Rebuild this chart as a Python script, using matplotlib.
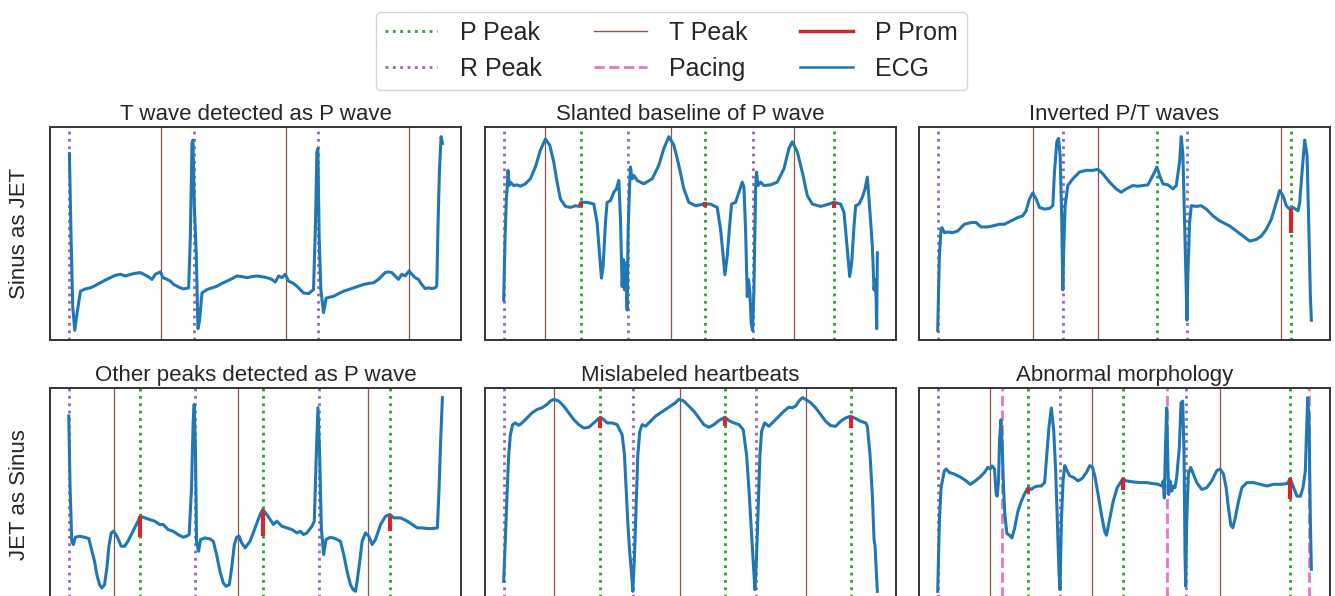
import matplotlib.pyplot as plt
from matplotlib.lines import Line2D

plt.rcParams['font.family'] = ['Liberation Sans', 'DejaVu Sans']
plt.rcParams['text.color'] = '#262626'
plt.rcParams['axes.labelcolor'] = '#262626'

# colours (seaborn / tab10 palette)
c_p = '#2ca02c'
c_r = '#9467bd'
c_t = '#8c564b'
c_pace = '#e377c2'
c_prom = '#d62728'
c_ecg = '#1f77b4'

titles = ['T wave detected as P wave', 'Slanted baseline of P wave', 'Inverted P/T waves',
          'Other peaks detected as P wave', 'Mislabeled heartbeats', 'Abnormal morphology']
row_labels = ['Sinus as JET', 'JET as Sinus']

# ---- panel 1: T wave detected as P wave ----
t1 = [87, 92, 97, 103, 110, 120, 135, 150, 165, 180, 195, 210, 225, 240, 255, 265, 280, 300, 320, 335,
      345, 360, 368, 380, 390, 400, 410, 420, 430, 445, 450, 455, 458, 462, 468, 473, 478, 485, 500, 515,
      530, 545, 560, 575, 590, 605, 620, 635, 650, 665, 680, 695, 705, 715, 725, 735, 745, 760, 770, 790,
      805, 820, 826, 830, 833, 837, 842, 850, 858, 870, 880, 895, 910, 925, 940, 955, 970, 985, 1000, 1015,
      1025, 1035, 1045, 1055, 1065, 1075, 1085, 1095, 1107, 1115, 1125, 1135, 1145, 1155, 1165, 1175, 1185,
      1190, 1194, 1198, 1203, 1207]
ecg1 = [550, 300, 100, 30, 80, 145, 152, 155, 162, 170, 178, 185, 192, 195, 190, 193, 197, 200, 190, 180,
        195, 202, 185, 180, 175, 165, 160, 155, 152, 155, 300, 580, 590, 400, 250, 35, 60, 140, 150, 155,
        160, 168, 175, 182, 190, 188, 185, 188, 190, 188, 185, 180, 172, 190, 185, 195, 175, 168, 160, 140,
        138, 150, 350, 555, 565, 300, 150, 82, 125, 128, 130, 138, 145, 150, 155, 160, 165, 168, 170, 180,
        190, 200, 202, 200, 190, 180, 195, 190, 205, 195, 185, 180, 165, 153, 155, 153, 155,
        160, 350, 500, 600, 580]
r1 = [85, 460, 832]
tp1 = [362, 737, 1107]
p1 = []
pace1 = []
prom1 = []

# ---- panel 2: Slanted baseline of P wave ----
t2 = [100, 104, 108, 111, 113, 116, 120, 130, 140, 150, 165, 180, 195, 210, 225, 238, 250, 260, 270, 285,
      300, 315, 325, 332, 350, 370, 380, 387, 393, 398, 405, 410, 420, 430, 438, 445, 450, 455, 459, 462,
      466, 470, 473, 477, 480, 485, 490, 500, 520, 545, 565, 580, 595, 610, 625, 640, 655, 675, 700, 720,
      740, 750, 758, 763, 770, 778, 783, 795, 805, 815, 820, 825, 830, 834, 838, 842, 846, 850, 855, 858,
      862, 870, 880, 900, 920, 940, 955, 965, 980, 995, 1010, 1025, 1050, 1075, 1090, 1110, 1120, 1130,
      1137, 1143, 1150, 1155, 1165, 1175, 1183, 1190, 1195, 1205, 1210, 1213, 1216, 1218, 1220]
ecg2 = [120, 300, 420, 460, 505, 460, 470, 460, 462, 458, 465, 480, 515, 565, 598, 580, 530, 470, 420, 398,
        395, 400, 398, 410, 410, 405, 350, 260, 185, 220, 350, 410, 415, 440, 450, 475, 360, 160, 240, 150,
        230, 90, 330, 450, 515, 480, 490, 475, 465, 480, 520, 570, 605, 580, 520, 450, 410, 400, 405, 405,
        395, 330, 250, 195, 250, 350, 405, 410, 440, 470, 455, 330, 130, 180, 140, 50, 30, 150, 450, 500,
        460, 470, 460, 462, 470, 510, 570, 590, 560, 500, 430, 405, 398, 405, 410, 405, 380, 270,
        190, 230, 340, 400, 405, 425, 450, 485, 420, 280, 150, 180, 130, 35, 260]
r2 = [100, 473, 848]
tp2 = [225, 602, 970]
p2 = [332, 702, 1090]
pace2 = []
prom2 = [(332, 412, 395), (702, 410, 395), (1090, 410, 392)]

# ---- panel 3: Inverted P/T waves ----
t3 = [115, 120, 125, 128, 135, 145, 160, 175, 195, 215, 230, 245, 265, 280, 300, 315, 335, 355, 370, 380,
      390, 400, 410, 420, 435, 450, 460, 465, 472, 477, 482, 487, 490, 492, 497, 505, 520, 540, 560, 580,
      595, 610, 630, 650, 665, 680, 700, 715, 730, 745, 760, 772, 780, 790, 805, 820, 830, 840, 845, 850,
      855, 860, 862, 865, 870, 875, 890, 905, 920, 940, 960, 990, 1010, 1030, 1050, 1070, 1085, 1100, 1115,
      1130, 1140, 1150, 1160, 1170, 1180, 1195, 1200, 1207, 1215, 1222, 1227, 1232, 1235]
ecg3 = [30, 250, 330, 335, 320, 322, 320, 325, 345, 350, 350, 337, 337, 340, 345, 345, 355, 365, 370, 385,
        420, 438, 420, 395, 390, 392, 400, 500, 590, 600, 550, 350, 150, 250, 400, 460, 480, 500, 505, 505,
        508, 495, 470, 450, 440, 450, 460, 458, 460, 462, 490, 515, 490, 465, 462, 450, 460, 530, 605, 550,
        350, 150, 60, 200, 350, 400, 398, 400, 390, 370, 355, 340, 325, 310, 295, 300, 310, 330, 360,
        410, 445, 430, 400, 390, 395, 385, 410, 500, 595, 550, 350, 130, 60]
r3 = [115, 490, 862]
tp3 = [400, 595, 1145]
p3 = [773, 1175]
pace3 = []
prom3 = [(1175, 390, 320)]

# ---- panel 4: Other peaks detected as P wave ----
t4 = [88, 92, 97, 102, 108, 120, 135, 148, 155, 165, 172, 180, 187, 195, 202, 208, 215, 222, 232, 245,
      255, 265, 280, 295, 302, 315, 330, 345, 360, 370, 385, 400, 415, 430, 440, 448, 455, 460, 463, 467,
      470, 476, 482, 495, 510, 520, 530, 540, 550, 558, 568, 575, 583, 590, 597, 605, 615, 630, 645, 660,
      668, 680, 690, 700, 710, 725, 740, 755, 770, 780, 790, 800, 815, 822, 828, 833, 838, 843, 850, 857,
      870, 885, 900, 910, 920, 930, 938, 945, 950, 958, 965, 975, 985, 995, 1005, 1020, 1035, 1048, 1060,
      1080, 1100, 1115, 1130, 1145, 1160, 1175, 1190, 1195, 1200, 1205]
ecg4 = [555, 340, 180, 170, 192, 195, 192, 188, 160, 120, 80, 50, 40, 50, 100, 165, 205, 210, 195, 165,
        165, 180, 210, 240, 255, 250, 245, 240, 230, 230, 215, 210, 200, 192, 195, 200, 340, 540, 590, 440,
        180, 150, 185, 190, 187, 180, 140, 90, 55, 45, 50, 100, 170, 192, 195, 175, 160, 180, 220, 260,
        275, 260, 245, 230, 240, 225, 220, 215, 205, 210, 200, 205, 225, 240, 440, 580, 440, 220, 140, 185,
        192, 188, 180, 140, 90, 50, 35, 30, 60, 120, 180, 205, 195, 170, 185, 230, 255, 260, 250,
        250, 240, 230, 220, 220, 218, 218, 220, 340, 490, 610]
r4 = [88, 465, 835]
tp4 = [222, 595, 982]
p4 = [302, 668, 1048]
pace4 = []
prom4 = [(302, 255, 192), (668, 275, 195), (1048, 260, 210)]

# ---- panel 5: Mislabeled heartbeats ----
t5 = [100, 105, 110, 115, 120, 127, 135, 145, 155, 170, 185, 200, 215, 230, 240, 250, 265, 280, 295, 310,
      325, 340, 355, 370, 385, 390, 400, 410, 425, 440, 455, 462, 467, 472, 477, 483, 487, 492, 497, 502,
      508, 515, 525, 540, 555, 570, 585, 600, 615, 625, 640, 655, 670, 685, 700, 715, 730, 745, 763, 775,
      790, 805, 818, 828, 835, 842, 848, 853, 858, 863, 868, 873, 882, 895, 910, 925, 940, 955, 965, 975,
      985, 995, 1005, 1020, 1035, 1050, 1065, 1080, 1095, 1110, 1125, 1140, 1155, 1170, 1185, 1190, 1198,
      1205, 1210, 1213, 1217, 1220]
ecg5 = [65, 190, 320, 440, 500, 530, 535, 528, 535, 550, 565, 575, 580, 590, 600, 605, 600, 585, 565, 545,
        530, 520, 522, 535, 548, 552, 545, 535, 535, 530, 500, 440, 340, 240, 160, 90, 35, 140, 290, 440,
        510, 530, 525, 540, 555, 565, 575, 585, 595, 605, 600, 585, 570, 550, 530, 522, 530, 542, 552, 542,
        535, 530, 515, 440, 340, 220, 120, 40, 140, 290, 440, 510, 535, 525, 540, 555, 570, 582, 580, 585,
        600, 610, 605, 595, 580, 560, 540, 527, 525, 540, 550, 555, 548, 540, 535, 525, 440,
        320, 190, 170, 90, 35]
r5 = [100, 488, 855]
tp5 = [250, 628, 1005]
p5 = [390, 763, 1140]
pace5 = []
prom5 = [(390, 552, 520), (763, 552, 525), (1140, 555, 520)]

# ---- panel 6: Abnormal morphology ----
t6 = [115, 120, 125, 135, 140, 150, 165, 185, 200, 212, 225, 240, 255, 265, 272, 278, 285, 290, 293, 297,
      300, 304, 308, 312, 316, 322, 330, 337, 345, 355, 365, 375, 385, 395, 405, 415, 425, 435, 440, 448,
      455, 462, 468, 473, 478, 481, 485, 490, 495, 502, 510, 522, 535, 548, 560, 570, 578, 585, 595, 605,
      615, 620, 628, 640, 652, 668, 680, 700, 720, 740, 760, 775, 785, 790, 793, 796, 800, 803, 806, 810,
      815, 820, 825, 830, 838, 843, 848, 852, 855, 857, 860, 865, 872, 880, 890, 905, 920, 935, 950, 960,
      970, 978, 985, 992, 998, 1005, 1015, 1025, 1040, 1060, 1080, 1100, 1120, 1140, 1160, 1170, 1180,
      1190, 1200, 1208, 1215, 1218, 1222, 1226, 1230, 1233]
ecg6 = [35, 240, 340, 390, 395, 385, 380, 370, 360, 350, 358, 370, 385, 400, 395, 404, 395, 320, 315, 360,
        480, 540, 460, 340, 260, 205, 200, 192, 220, 270, 300, 322, 340, 335, 342, 345, 345, 355, 420, 520,
        575, 510, 390, 240, 90, 40, 240, 360, 405, 390, 375, 370, 360, 368, 385, 405, 400, 375, 320, 260,
        210, 200, 240, 300, 340, 365, 360, 357, 355, 355, 352, 350, 345, 360, 310, 440, 575, 440, 320, 360,
        330, 345, 340, 370, 460, 590, 595, 440, 140, 50, 240, 380, 400, 380, 355, 335, 340, 360, 390, 395,
        380, 340, 280, 230, 222, 250, 300, 340, 355, 355, 350, 345, 350, 350, 352, 365, 340,
        315, 315, 340, 390, 490, 605, 540, 240, 100]
r6 = [115, 482, 857]
tp6 = [272, 578, 960]
p6 = [385, 668, 1170]
pace6 = [307, 800, 1226]
prom6 = [(385, 340, 325), (668, 368, 332), (1170, 370, 308)]

panels = [
    (t1, ecg1, r1, tp1, p1, pace1, prom1),
    (t2, ecg2, r2, tp2, p2, pace2, prom2),
    (t3, ecg3, r3, tp3, p3, pace3, prom3),
    (t4, ecg4, r4, tp4, p4, pace4, prom4),
    (t5, ecg5, r5, tp5, p5, pace5, prom5),
    (t6, ecg6, r6, tp6, p6, pace6, prom6),
]

fig = plt.figure(figsize=(13.35, 5.96), dpi=100)
lefts = [0.0375, 0.3633, 0.6884]
bottoms = [0.4295, -0.0084]
w, h = 0.3079, 0.3574

for i, (t, ecg, r, tp, p, pace, prom) in enumerate(panels):
    row, col = divmod(i, 3)
    ax = fig.add_axes([lefts[col], bottoms[row], w, h])
    for x in tp:
        ax.axvline(x, color=c_t, lw=0.9)
    for x in r:
        ax.axvline(x, color=c_r, lw=2, ls=':')
    for x in p:
        ax.axvline(x, color=c_p, lw=2, ls=':')
    for x in pace:
        ax.axvline(x, color=c_pace, lw=2, ls='--')
    ax.plot(t, ecg, color=c_ecg, lw=2.2, solid_joinstyle='round')
    for x, top, bot in prom:
        ax.vlines(x, bot, top, color=c_prom, lw=3, zorder=3)
    ax.set_xticks([])
    ax.set_yticks([])
    for s in ax.spines.values():
        s.set_color('#333333')
        s.set_linewidth(1.4)
    ax.set_title(titles[i], fontsize=16, pad=5)
    if col == 0:
        ax.set_ylabel(row_labels[row], fontsize=16)
        ax.yaxis.set_label_coords(-0.05, 0.5)

handles = [
    Line2D([], [], color=c_p, lw=2, ls=':', label='P Peak'),
    Line2D([], [], color=c_r, lw=2, ls=':', label='R Peak'),
    Line2D([], [], color=c_t, lw=1, label='T Peak'),
    Line2D([], [], color=c_pace, lw=2, ls='--', label='Pacing'),
    Line2D([], [], color=c_prom, lw=2.5, label='P Prom'),
    Line2D([], [], color=c_ecg, lw=1.8, label='ECG'),
]
fig.legend(handles=handles, loc='upper center', bbox_to_anchor=(0.503, 0.98), ncol=3,
           fontsize=18, handlelength=2.1, handletextpad=0.9, columnspacing=2.1,
           borderpad=0.35, labelspacing=0.5, borderaxespad=0, edgecolor='#cccccc')

fig.savefig('out.png', dpi=100)
